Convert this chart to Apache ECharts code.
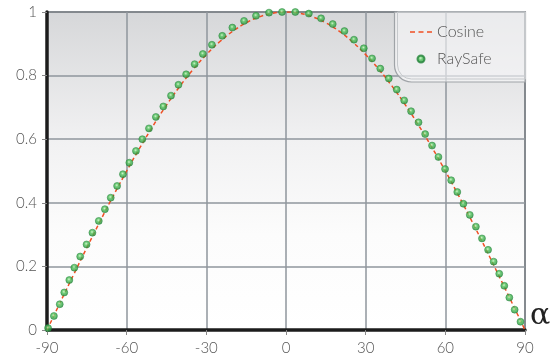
<!DOCTYPE html>
<html>
<head>
<meta charset="utf-8">
<script src="https://cdn.jsdelivr.net/npm/echarts@6/dist/echarts.min.js"></script>
<style>
  html, body { margin: 0; padding: 0; background: #fff; }
  #chart { width: 558px; height: 359px; }
</style>
</head>
<body>
<div id="chart"></div>
<script>
(function() {

    // cosine reference curve, 5 degree steps
    var cosAngles = [-90, -85, -80, -75, -70, -65, -60, -55, -50, -45, -40, -35, -30, -25, -20, -15, -10, -5, 0,
                     5, 10, 15, 20, 25, 30, 35, 40, 45, 50, 55, 60, 65, 70, 75, 80, 85, 90];
    var cosValues = [0, 0.0872, 0.1736, 0.2588, 0.3420, 0.4226, 0.5, 0.5736, 0.6428, 0.7071, 0.7660, 0.8192, 0.8660, 0.9063, 0.9397, 0.9659, 0.9848, 0.9962, 1,
                     0.9962, 0.9848, 0.9659, 0.9397, 0.9063, 0.8660, 0.8192, 0.7660, 0.7071, 0.6428, 0.5736, 0.5, 0.4226, 0.3420, 0.2588, 0.1736, 0.0872, 0];

    var raySafeAngles = [-89.6, -87.4, -85.2, -83.5, -81.6, -79.7, -77.5, -75.1, -72.9, -70.5, -68.2, -66.0, -63.6, -61.4,
                         -59.0, -56.5, -54.1, -51.6, -49.0, -46.2, -43.3, -40.5, -37.6, -34.4, -31.3, -27.9, -24.0, -20.2,
                         -15.8, -11.3, -6.4, -1.5, 3.5, 8.6, 13.2, 17.6, 22.0, 25.6, 29.3, 32.4, 35.5, 38.7, 41.7, 44.5,
                         47.1, 49.9, 52.4, 55.0, 57.4, 59.9, 62.2, 64.5, 66.8, 69.2, 71.5, 73.8, 76.1, 78.2, 80.3, 82.2,
                         84.1, 86.1, 88.3];
    var raySafeValues = [0.006, 0.044, 0.081, 0.118, 0.157, 0.196, 0.231, 0.269, 0.306, 0.343, 0.380, 0.416, 0.453, 0.490,
                         0.526, 0.563, 0.600, 0.634, 0.670, 0.703, 0.737, 0.771, 0.804, 0.836, 0.868, 0.897, 0.925, 0.951,
                         0.972, 0.988, 0.998, 1.000, 1.000, 0.995, 0.980, 0.962, 0.940, 0.913, 0.886, 0.854, 0.822, 0.791,
                         0.756, 0.722, 0.688, 0.653, 0.616, 0.580, 0.544, 0.506, 0.471, 0.434, 0.397, 0.362, 0.325, 0.288,
                         0.252, 0.215, 0.177, 0.139, 0.102, 0.064, 0.026];

    var xTicks = [-90, 90, 30];   // min, max, interval
    var yTicks = [0, 1, 0.2];

    function pairs(xs, ys) {
        var out = [];
        for (var i = 0; i < xs.length; i++) out.push([xs[i], ys[i]]);
        return out;
    }

    var font = 'Lato';
    var chart = echarts.init(document.getElementById('chart'));

    // three short dashes inside a 22x7 box (corner dots fix the box size)
    var dashIcon = 'path://M0,2.7h5v1.6h-5z M8.5,2.7h5v1.6h-5z M17,2.7h5v1.6h-5z' +
                   ' M0,0h0.01v0.01h-0.01z M21.99,6.99h0.01v0.01h-0.01z';

    chart.setOption({
        animation: false,
        grid: {
            left: 47, right: 33, top: 12, bottom: 29,
            show: true,
            borderColor: '#3a3a3a',
            borderWidth: 1.5,
            backgroundColor: {
                type: 'linear', x: 0, y: 0, x2: 0, y2: 1,
                colorStops: [
                    {offset: 0, color: '#d6d7d9'},
                    {offset: 0.4, color: '#f1f1f2'},
                    {offset: 0.7, color: '#fcfcfc'},
                    {offset: 1, color: '#ffffff'}
                ]
            }
        },
        xAxis: {
            type: 'value',
            min: xTicks[0], max: xTicks[1], interval: xTicks[2],
            axisLine: {onZero: false, lineStyle: {color: '#1c1c1c', width: 3.5}},
            axisTick: {show: true, length: 5, lineStyle: {color: '#888'}},
            axisLabel: {margin: 11, color: '#555', fontSize: 15, fontFamily: font, fontWeight: 300},
            splitLine: {lineStyle: {color: '#8f969c', width: 1.5}}
        },
        yAxis: {
            type: 'value',
            min: yTicks[0], max: yTicks[1], interval: yTicks[2],
            axisLine: {show: true, onZero: false, lineStyle: {color: '#1c1c1c', width: 3.5}},
            axisTick: {show: true, length: 5, lineStyle: {color: '#888'}},
            axisLabel: {margin: 10, color: '#555', fontSize: 15, fontFamily: font, fontWeight: 300},
            splitLine: {lineStyle: {color: '#8f969c', width: 1.5}}
        },
        legend: {
            orient: 'vertical',
            left: 405, top: 19,
            z: 10,
            itemWidth: 22, itemHeight: 7, itemGap: 11,
            textStyle: {color: '#555', fontSize: 16, fontFamily: font, fontWeight: 300},
            data: [
                {name: 'Cosine', icon: dashIcon, itemStyle: {color: '#f04e23'}},
                {name: 'RaySafe', icon: 'circle'}
            ]
        },
        graphic: [
            {
                type: 'rect', z: 5,
                shape: {x: 394.5, y: 12, width: 131, height: 70, r: [0, 0, 0, 17]},
                style: {fill: 'rgba(248,249,250,0.6)', stroke: '#9fa3a7', lineWidth: 1.2}
            },
            {
                type: 'rect', z: 5,
                shape: {x: 397.5, y: 12, width: 128, height: 67, r: [0, 0, 0, 14]},
                style: {fill: 'none', stroke: '#c6c9cc', lineWidth: 1}
            },
            {
                type: 'text', left: 530, top: 301,
                style: {text: 'α', fontSize: 30, fontFamily: 'DejaVu Serif', fill: '#222'}
            }
        ],
        series: [
            {
                name: 'Cosine',
                type: 'line',
                smooth: true,
                symbol: 'none',
                z: 3,
                lineStyle: {color: '#f04e23', width: 1.5, type: [4, 3]},
                itemStyle: {color: '#f04e23'},
                data: pairs(cosAngles, cosValues)
            },
            {
                name: 'RaySafe',
                type: 'scatter',
                symbol: 'circle',
                symbolSize: 7,
                z: 4,
                itemStyle: {
                    color: {
                        type: 'radial', x: 0.45, y: 0.4, r: 0.6,
                        colorStops: [
                            {offset: 0, color: '#c8f5c0'},
                            {offset: 0.35, color: '#4fc25a'},
                            {offset: 1, color: '#238c39'}
                        ]
                    },
                    borderColor: '#23823a',
                    borderWidth: 0.6
                },
                data: pairs(raySafeAngles, raySafeValues)
            }
        ]
    });
} ());
</script>
</body>
</html>
